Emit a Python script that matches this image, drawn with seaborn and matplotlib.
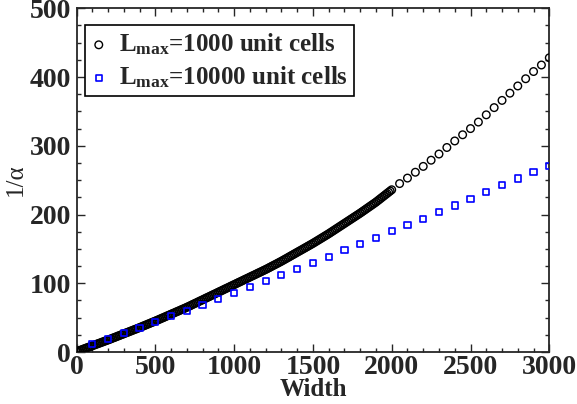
import matplotlib
matplotlib.use("Agg")
import matplotlib.pyplot as plt
from matplotlib.ticker import MultipleLocator
import seaborn as sns
import pandas as pd

# ---- data ----
width_1000_dense = list(range(0, 2001, 10))
alpha_1000_dense = [
    0.5, 1.4, 2.2, 3.1, 3.9, 4.8, 5.6, 6.5, 7.3, 8.2,
    9.0, 9.9, 10.7, 11.6, 12.4, 13.3, 14.1, 15.0, 15.8, 16.7,
    17.5, 18.4, 19.3, 20.2, 21.1, 22.0, 22.9, 23.8, 24.7, 25.6,
    26.5, 27.4, 28.3, 29.2, 30.1, 31.0, 31.9, 32.8, 33.7, 34.6,
    35.5, 36.5, 37.4, 38.4, 39.3, 40.3, 41.2, 42.2, 43.1, 44.1,
    45.0, 46.0, 47.0, 48.0, 49.0, 50.0, 51.0, 52.0, 53.0, 54.0,
    55.0, 56.0, 57.0, 58.0, 59.0, 60.0, 61.0, 62.0, 63.0, 64.0,
    65.0, 66.1, 67.2, 68.3, 69.4, 70.5, 71.6, 72.7, 73.8, 74.9,
    76.0, 77.1, 78.2, 79.3, 80.4, 81.5, 82.6, 83.7, 84.8, 85.9,
    87.0, 88.1, 89.2, 90.3, 91.4, 92.5, 93.6, 94.7, 95.8, 96.9,
    98.0, 99.1, 100.2, 101.3, 102.4, 103.5, 104.6, 105.7, 106.8, 107.9,
    109.0, 110.1, 111.2, 112.3, 113.4, 114.5, 115.6, 116.7, 117.8, 118.9,
    120.0, 121.2, 122.4, 123.6, 124.8, 126.0, 127.2, 128.4, 129.6, 130.8,
    132.0, 133.3, 134.6, 135.9, 137.2, 138.5, 139.8, 141.1, 142.4, 143.7,
    145.0, 146.3, 147.6, 148.9, 150.2, 151.5, 152.8, 154.1, 155.4, 156.7,
    158.0, 159.4, 160.8, 162.2, 163.6, 165.0, 166.4, 167.8, 169.2, 170.6,
    172.0, 173.5, 175.0, 176.5, 178.0, 179.5, 181.0, 182.5, 184.0, 185.5,
    187.0, 188.5, 190.0, 191.5, 193.0, 194.5, 196.0, 197.5, 199.0, 200.5,
    202.0, 203.6, 205.2, 206.8, 208.4, 210.0, 211.6, 213.2, 214.8, 216.4,
    218.0, 219.8, 221.6, 223.4, 225.2, 227.0, 228.8, 230.6, 232.4, 234.2,
    236.0,
]
width_1000_sparse = list(range(2050, 3001, 50))
alpha_1000_sparse = [
    245.0, 253.0, 261.5, 270.0, 279.0, 288.0, 297.5, 307.0, 316.0, 325.0,
    334.5, 345.0, 355.5, 366.0, 376.5, 387.0, 397.5, 408.0, 417.5, 428.0,
]
width_10000 = list(range(100, 3001, 100))
alpha_10000 = [
    11.2, 18.9, 27.2, 35.4, 43.7, 52.0, 60.1, 68.9, 77.1, 85.9,
    94.6, 103.3, 112.1, 121.3, 130.0, 138.7, 148.0, 157.2, 166.4, 175.7,
    184.9, 194.0, 203.4, 213.0, 222.7, 232.5, 242.7, 252.3, 261.6, 270.7,
]
label_1000 = r"$\mathbf{L_{max}}$=1000 unit cells"
label_10000 = r"$\mathbf{L_{max}}$=10000 unit cells"
x_ticks = [0, 500, 1000, 1500, 2000, 2500, 3000]
y_ticks = [0, 100, 200, 300, 400, 500]

df1 = pd.DataFrame({"Width": width_1000_dense + width_1000_sparse,
                    "alpha": alpha_1000_dense + alpha_1000_sparse})
df2 = pd.DataFrame({"Width": width_10000, "alpha": alpha_10000})

sns.set_style("ticks")
plt.rcParams["font.family"] = ["Liberation Serif", "DejaVu Serif"]
plt.rcParams["mathtext.fontset"] = "custom"
plt.rcParams["mathtext.rm"] = "Liberation Serif"
plt.rcParams["mathtext.bf"] = "Liberation Serif:bold"
plt.rcParams["mathtext.it"] = "Liberation Serif:italic"

fig = plt.figure(figsize=(5.77, 4.04), dpi=100)
ax = fig.add_axes([0.1326, 0.1287, 0.8194, 0.8508])

sns.scatterplot(data=df1, x="Width", y="alpha", ax=ax, marker="o", s=30,
                facecolor="none", edgecolor="black", linewidth=1.0,
                label=label_1000, zorder=3)
sns.scatterplot(data=df2, x="Width", y="alpha", ax=ax, marker="s", s=20,
                facecolor="none", edgecolor="#0000ff", linewidth=1.2,
                label=label_10000, zorder=4)

ax.set_xlim(0, 3000)
ax.set_ylim(0, 500)
ax.set_xticks(x_ticks)
ax.set_yticks(y_ticks)
ax.xaxis.set_minor_locator(MultipleLocator(100))
ax.yaxis.set_minor_locator(MultipleLocator(25))
ax.tick_params(which="both", direction="in", top=True, right=True, width=1.0)
ax.tick_params(which="major", length=6, labelsize=20)
ax.tick_params(axis="x", which="major", pad=2)
ax.tick_params(axis="y", which="major", pad=4)
ax.tick_params(which="minor", length=3)
for lab in ax.get_xticklabels() + ax.get_yticklabels():
    lab.set_fontweight("bold")
for sp in ax.spines.values():
    sp.set_linewidth(1.3)
    sp.set_visible(True)

ax.set_xlabel("Width", fontsize=18, fontweight="bold", labelpad=-1)
ax.set_ylabel("1/α", fontsize=18, labelpad=2)

leg = ax.legend(loc="upper left", bbox_to_anchor=(0.018, 0.951), borderaxespad=0,
                fancybox=False, frameon=True, edgecolor="black",
                prop={"family": "Liberation Serif", "weight": "bold", "size": 18},
                handlelength=0.6, handletextpad=0.5, borderpad=0.25,
                labelspacing=0.3, markerscale=1.0)
leg.get_frame().set_linewidth(1.2)
leg.get_frame().set_alpha(1)

fig.savefig("out.png", dpi=100)
